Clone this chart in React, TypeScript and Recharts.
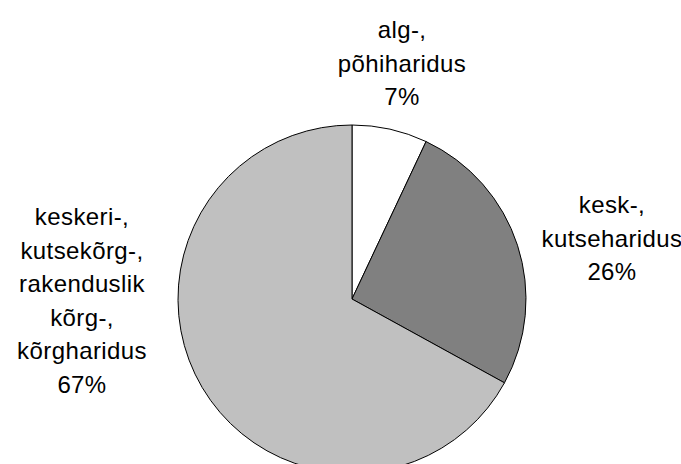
import React from 'react';
import { PieChart, Pie, Cell } from 'recharts';

const categories = [
  'alg-,\npõhiharidus',
  'kesk-,\nkutseharidus',
  'keskeri-,\nkutsekõrg-,\nrakenduslik\nkõrg-,\nkõrgharidus',
];
const shares = [7, 26, 67];
const colors = ['#ffffff', '#808080', '#c0c0c0'];

// label block anchor relative to pie centre: x of text centre, y of first baseline
const labelOffsets = [
  { dx: 50, dy: -261 },
  { dx: 260, dy: -86 },
  { dx: -270, dy: -74 },
];

const data = categories.map((name, i) => ({ name, value: shares[i] }));

const LINE_H = 33.5;

const renderLabel = (props: any) => {
  const { cx, cy, index, value } = props;
  const off = labelOffsets[index];
  const lines = [...categories[index].split('\n'), `${value}%`];
  const x = cx + off.dx;
  return (
    <text
      x={x}
      y={cy + off.dy}
      textAnchor="middle"
      fill="#000"
      fontSize={24}
      fontFamily="'Liberation Sans', Arial, sans-serif"
      letterSpacing={0.4}
    >
      {lines.map((l, i) => (
        <tspan key={i} x={x} dy={i === 0 ? 0 : LINE_H}>
          {l}
        </tspan>
      ))}
    </text>
  );
};

export default function App() {
  return (
    <div style={{ position: 'absolute', left: 0, top: 0, width: 681, height: 464, background: '#fff' }}>
      <PieChart width={681} height={464}>
        <Pie
          data={data}
          dataKey="value"
          nameKey="name"
          cx={347}
          cy={294}
          outerRadius={174}
          startAngle={90}
          endAngle={-270}
          stroke="#000"
          strokeWidth={1}
          label={renderLabel}
          labelLine={false}
          isAnimationActive={false}
        >
          {data.map((d, i) => (
            <Cell key={d.name} fill={colors[i]} />
          ))}
        </Pie>
      </PieChart>
    </div>
  );
}
